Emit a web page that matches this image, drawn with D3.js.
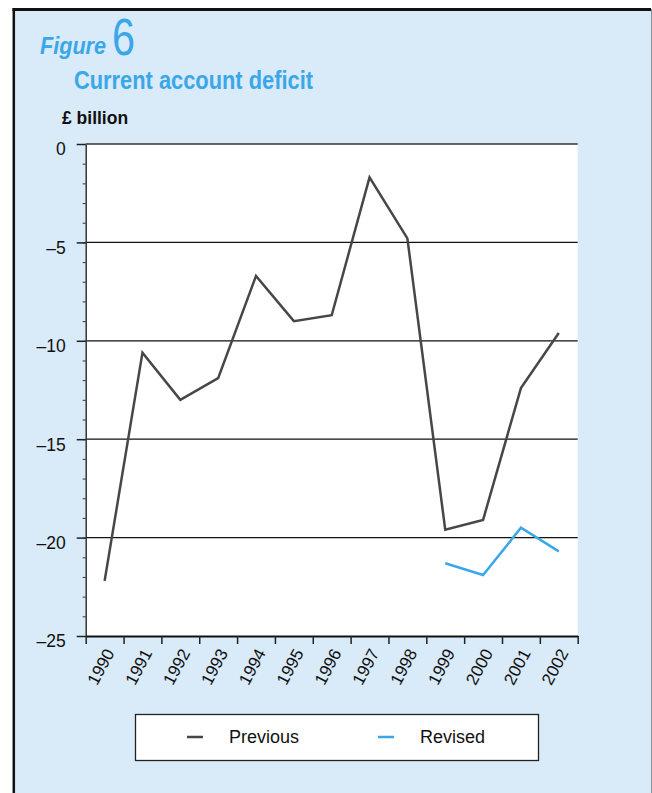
<!DOCTYPE html>
<html>
<head>
<meta charset="utf-8">
<script src="https://cdn.jsdelivr.net/npm/d3@7"></script>
<style>
  body { margin: 0; background: #fff; }
  svg { display: block; font-family: "Liberation Sans", Arial, sans-serif; }
</style>
</head>
<body>
<div id="chart"></div>
<script>
// data
var years = ["1990","1991","1992","1993","1994","1995","1996","1997","1998","1999","2000","2001","2002"];
var previous = [-22.2, -10.6, -13.0, -11.9, -6.7, -9.0, -8.7, -1.7, -4.8, -19.6, -19.1, -12.4, -9.6];
var revisedYears = ["1999","2000","2001","2002"];
var revised = [-21.3, -21.9, -19.5, -20.7];
var yTicks = [0, -5, -10, -15, -20, -25];
var gridValues = [-5, -10, -15, -20];

var blue = "#3aa7e8";
var dark = "#474747";

var W = 652, H = 793;
var plot = {left: 85.7, right: 577.7, top: 144, bottom: 636};

var svg = d3.select("#chart").append("svg")
    .attr("width", W)
    .attr("height", H);

// panel background and frame
svg.append("rect")
    .attr("x", 14).attr("y", 9)
    .attr("width", 637).attr("height", H)
    .attr("fill", "#d9eaf8");
svg.append("line").attr("x1", 12.5).attr("x2", 651).attr("y1", 9.5).attr("y2", 9.5)
    .attr("stroke", "#111").attr("stroke-width", 3);
svg.append("line").attr("x1", 13.8).attr("x2", 13.8).attr("y1", 8).attr("y2", H)
    .attr("stroke", "#111").attr("stroke-width", 2.5);
svg.append("line").attr("x1", 651.5).attr("x2", 651.5).attr("y1", 9).attr("y2", H)
    .attr("stroke", "#8a939c").attr("stroke-width", 1);

// titles
svg.append("text")
    .attr("x", 40).attr("y", 54)
    .attr("font-size", 23).attr("font-weight", "bold").attr("font-style", "italic")
    .attr("fill", blue)
    .attr("textLength", 66).attr("lengthAdjust", "spacingAndGlyphs")
    .text("Figure");
svg.append("text")
    .attr("x", 112).attr("y", 55)
    .attr("font-size", 51)
    .attr("fill", blue)
    .attr("textLength", 23).attr("lengthAdjust", "spacingAndGlyphs")
    .text("6");
svg.append("text")
    .attr("x", 74).attr("y", 89)
    .attr("font-size", 25).attr("font-weight", "bold")
    .attr("fill", blue)
    .attr("textLength", 239).attr("lengthAdjust", "spacingAndGlyphs")
    .text("Current account deficit");
svg.append("text")
    .attr("x", 62).attr("y", 124)
    .attr("font-size", 17.5).attr("font-weight", "bold")
    .attr("fill", "#111")
    .text("£ billion");

// plot area
svg.append("rect")
    .attr("x", plot.left).attr("y", plot.top)
    .attr("width", plot.right - plot.left).attr("height", plot.bottom - plot.top)
    .attr("fill", "#fff");

// scales
var x = d3.scaleBand().domain(years).range([plot.left, plot.right]);
var xEdge = d3.scaleLinear().domain([0, years.length]).range([plot.left, plot.right]);
var y = d3.scaleLinear().domain([-25, 0]).range([plot.bottom, plot.top]);

// gridlines
svg.append("g").selectAll("line")
    .data(gridValues)
    .join("line")
    .attr("x1", plot.left).attr("x2", plot.right)
    .attr("y1", function(d) { return y(d); })
    .attr("y2", function(d) { return y(d); })
    .attr("stroke", "#111").attr("stroke-width", 1.3);

// top line at 0
svg.append("line")
    .attr("x1", plot.left).attr("x2", plot.right)
    .attr("y1", y(0)).attr("y2", y(0))
    .attr("stroke", "#333").attr("stroke-width", 1.5);

// minor y ticks
var yMinor = d3.axisLeft(y).ticks(25).tickSize(3).tickFormat("").tickSizeOuter(0);
svg.append("g")
    .attr("transform", "translate(" + plot.left + ",0)")
    .call(yMinor)
    .call(function(g) { g.select(".domain").remove(); })
    .selectAll("line").attr("stroke", "#333");

// y axis
var yAxis = d3.axisLeft(y)
    .tickValues(yTicks)
    .tickSize(9)
    .tickSizeOuter(0)
    .tickPadding(11)
    .tickFormat(function(d) { return d === 0 ? "0" : "\u2013" + Math.abs(d); });
var gy = svg.append("g")
    .attr("transform", "translate(" + plot.left + ",0)")
    .call(yAxis);
gy.select(".domain").attr("stroke", "#333").attr("stroke-width", 1.5);
gy.selectAll("line").attr("stroke", "#222").attr("stroke-width", 1.5);
gy.selectAll("text")
    .attr("font-size", 17.5)
    .attr("font-family", "Liberation Sans, Arial, sans-serif")
    .attr("fill", "#111")
    .attr("dy", "0.62em");

// x axis
var xAxis = d3.axisBottom(xEdge)
    .tickValues(d3.range(0, years.length + 1))
    .tickSize(8)
    .tickSizeOuter(0)
    .tickFormat("");
var gx = svg.append("g")
    .attr("transform", "translate(0," + plot.bottom + ")")
    .call(xAxis);
gx.select(".domain").attr("stroke", "#111").attr("stroke-width", 2);
gx.selectAll("line").attr("stroke", "#222").attr("stroke-width", 1.5);

svg.append("g").selectAll("text")
    .data(years)
    .join("text")
    .attr("transform", function(d) {
      return "translate(" + (x(d) + x.bandwidth() / 2 + 5) + "," + (plot.bottom + 14) + ") rotate(-62)";
    })
    .attr("text-anchor", "end")
    .attr("dy", "0.35em")
    .attr("font-size", 17)
    .attr("fill", "#111")
    .text(function(d) { return d; });

// lines
var line = d3.line()
    .x(function(d) { return x(d[0]) + x.bandwidth() / 2; })
    .y(function(d) { return y(d[1]); });

svg.append("path")
    .datum(d3.zip(years, previous))
    .attr("d", line)
    .attr("fill", "none")
    .attr("stroke", dark)
    .attr("stroke-width", 2.5);

svg.append("path")
    .datum(d3.zip(revisedYears, revised))
    .attr("d", line)
    .attr("fill", "none")
    .attr("stroke", blue)
    .attr("stroke-width", 2.5);

// legend
var legend = svg.append("g");
legend.append("rect")
    .attr("x", 135.5).attr("y", 714.5)
    .attr("width", 403).attr("height", 46)
    .attr("fill", "#fff")
    .attr("stroke", "#222").attr("stroke-width", 1.3);

var legendItems = [
  {label: "Previous", color: dark, x: 187},
  {label: "Revised", color: blue, x: 378}
];
legend.selectAll("line.key")
    .data(legendItems)
    .join("line")
    .attr("class", "key")
    .attr("x1", function(d) { return d.x; })
    .attr("x2", function(d) { return d.x + 16; })
    .attr("y1", 737).attr("y2", 737)
    .attr("stroke", function(d) { return d.color; })
    .attr("stroke-width", 2.5);
legend.selectAll("text")
    .data(legendItems)
    .join("text")
    .attr("x", function(d) { return d.x + 42; })
    .attr("y", 743)
    .attr("font-size", 18)
    .attr("fill", "#111")
    .text(function(d) { return d.label; });
</script>
</body>
</html>
